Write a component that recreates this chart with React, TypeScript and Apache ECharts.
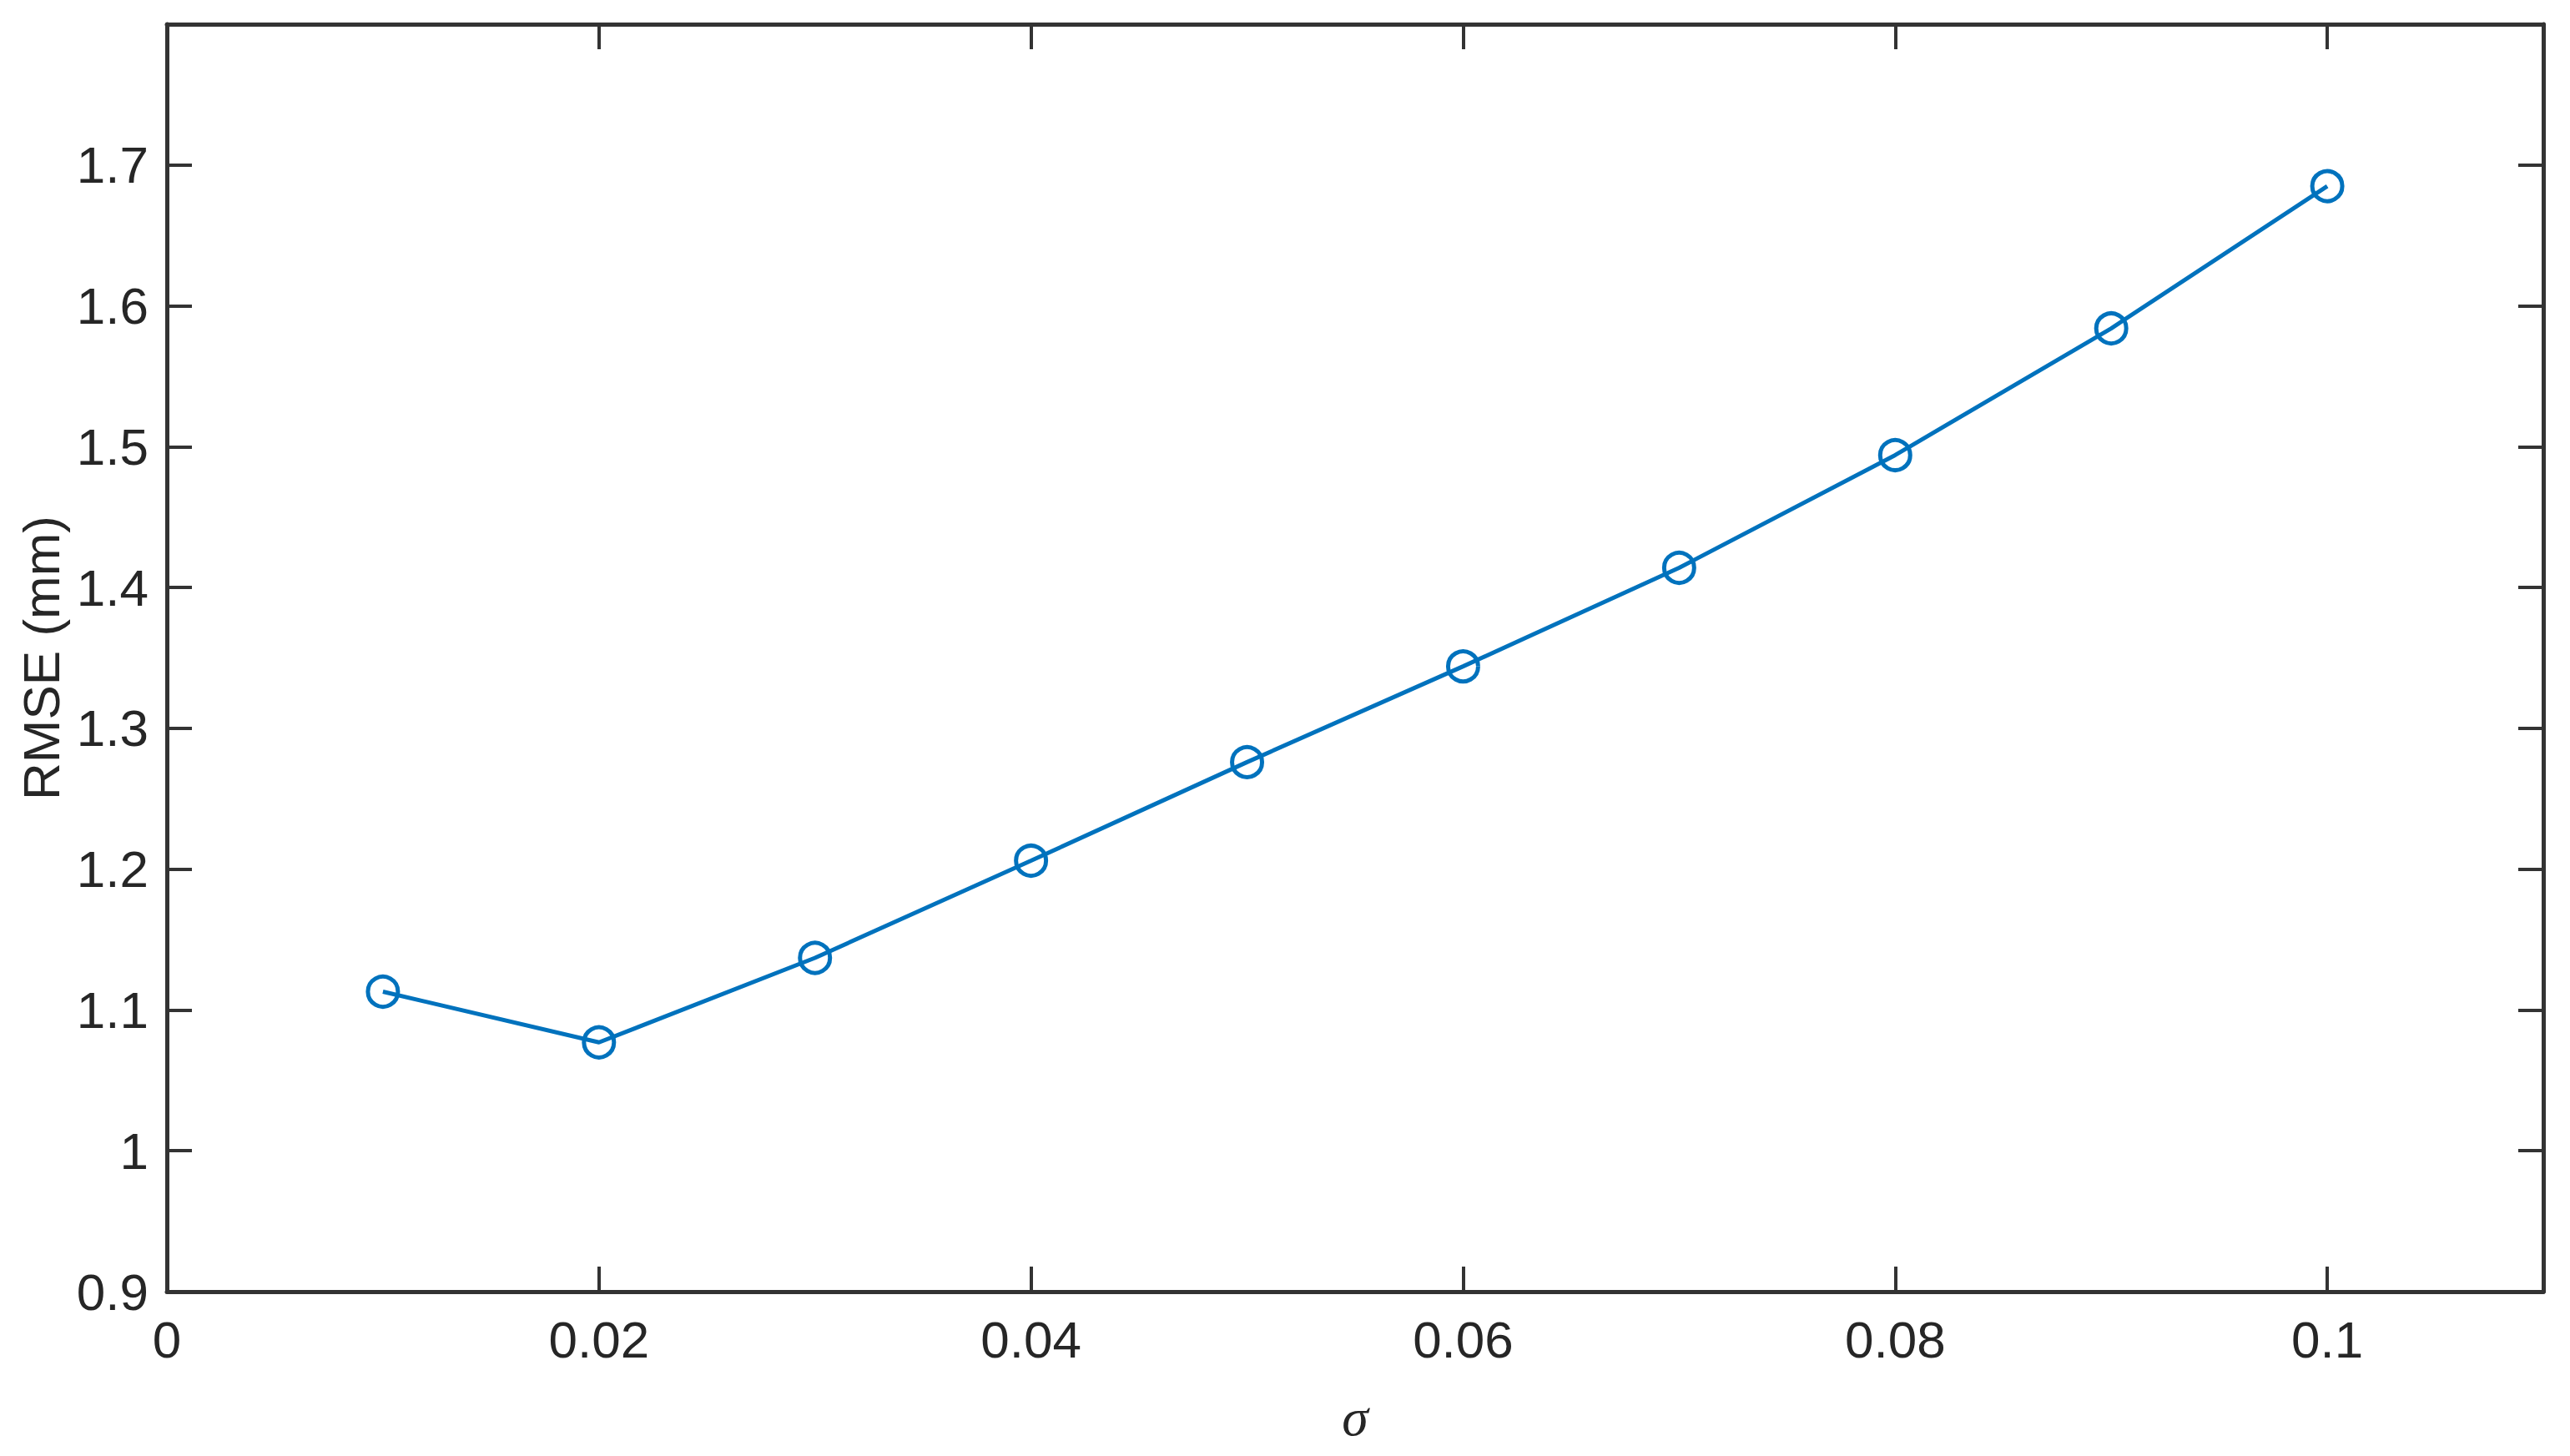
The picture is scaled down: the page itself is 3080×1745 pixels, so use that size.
import React, { useEffect, useRef } from "react";
import * as echarts from "echarts";

const sigmaValues = [0.01, 0.02, 0.03, 0.04, 0.05, 0.06, 0.07, 0.08, 0.09, 0.1];
const rmseValues = [1.113, 1.077, 1.137, 1.206, 1.276, 1.344, 1.414, 1.494, 1.584, 1.685];

const xMin = 0;
const xMax = 0.11;
const xStep = 0.02;
const yMin = 0.9;
const yMax = 1.8;
const yStep = 0.1;

const AXIS_COLOR = "#333333";
const TEXT_COLOR = "#262626";
const LINE_COLOR = "#0072BD";
const FONT = "'Liberation Sans', Arial, Helvetica, sans-serif";

const fmt = (v: number) => String(+Number(v).toFixed(2));

export default function App() {
  const ref = useRef<HTMLDivElement>(null);

  useEffect(() => {
    if (!ref.current) return;
    const chart = echarts.init(ref.current, undefined, { renderer: "svg" });

    const commonTick = { show: true, inside: true, length: 30, lineStyle: { color: AXIS_COLOR, width: 4 } };
    const commonLine = { show: true, onZero: false, lineStyle: { color: AXIS_COLOR, width: 5 } };

    chart.setOption({
      animation: false,
      backgroundColor: "#ffffff",
      grid: { left: 200, right: 32, top: 29, bottom: 197, containLabel: false },
      xAxis: [
        {
          type: "value",
          min: xMin,
          max: xMax,
          interval: xStep,
          position: "bottom",
          axisLine: commonLine,
          axisTick: commonTick,
          splitLine: { show: false },
          axisLabel: {
            show: true,
            showMaxLabel: false,
            margin: 26,
            fontSize: 62,
            fontFamily: FONT,
            color: TEXT_COLOR,
            formatter: fmt,
          },
          name: "σ",
          nameLocation: "middle",
          nameGap: 118,
          nameTextStyle: {
            fontSize: 64,
            fontStyle: "italic",
            fontFamily: "'Liberation Serif', 'DejaVu Serif', serif",
            color: TEXT_COLOR,
          },
        },
        {
          type: "value",
          min: xMin,
          max: xMax,
          interval: xStep,
          position: "top",
          axisLine: commonLine,
          axisTick: commonTick,
          splitLine: { show: false },
          axisLabel: { show: false },
        },
      ],
      yAxis: [
        {
          type: "value",
          min: yMin,
          max: yMax,
          interval: yStep,
          position: "left",
          axisLine: commonLine,
          axisTick: commonTick,
          splitLine: { show: false },
          axisLabel: {
            show: true,
            showMaxLabel: false,
            margin: 22,
            fontSize: 62,
            fontFamily: FONT,
            color: TEXT_COLOR,
            formatter: fmt,
          },
          name: "RMSE (mm)",
          nameLocation: "middle",
          nameGap: 116,
          nameTextStyle: {
            fontSize: 62,
            fontFamily: FONT,
            color: TEXT_COLOR,
          },
        },
        {
          type: "value",
          min: yMin,
          max: yMax,
          interval: yStep,
          position: "right",
          axisLine: commonLine,
          axisTick: commonTick,
          splitLine: { show: false },
          axisLabel: { show: false },
        },
      ],
      series: [
        {
          type: "line",
          xAxisIndex: 0,
          yAxisIndex: 0,
          data: sigmaValues.map((s, i) => [s, rmseValues[i]]),
          lineStyle: { color: LINE_COLOR, width: 5 },
          symbol: "circle",
          symbolSize: 36,
          itemStyle: { color: "rgba(0,0,0,0)", borderColor: LINE_COLOR, borderWidth: 5 },
          emphasis: { disabled: true },
          z: 3,
        },
      ],
    });

    return () => chart.dispose();
  }, []);

  return (
    <div
      ref={ref}
      style={{ position: "fixed", left: 0, top: 0, width: 3080, height: 1745, background: "#fff" }}
    />
  );
}
